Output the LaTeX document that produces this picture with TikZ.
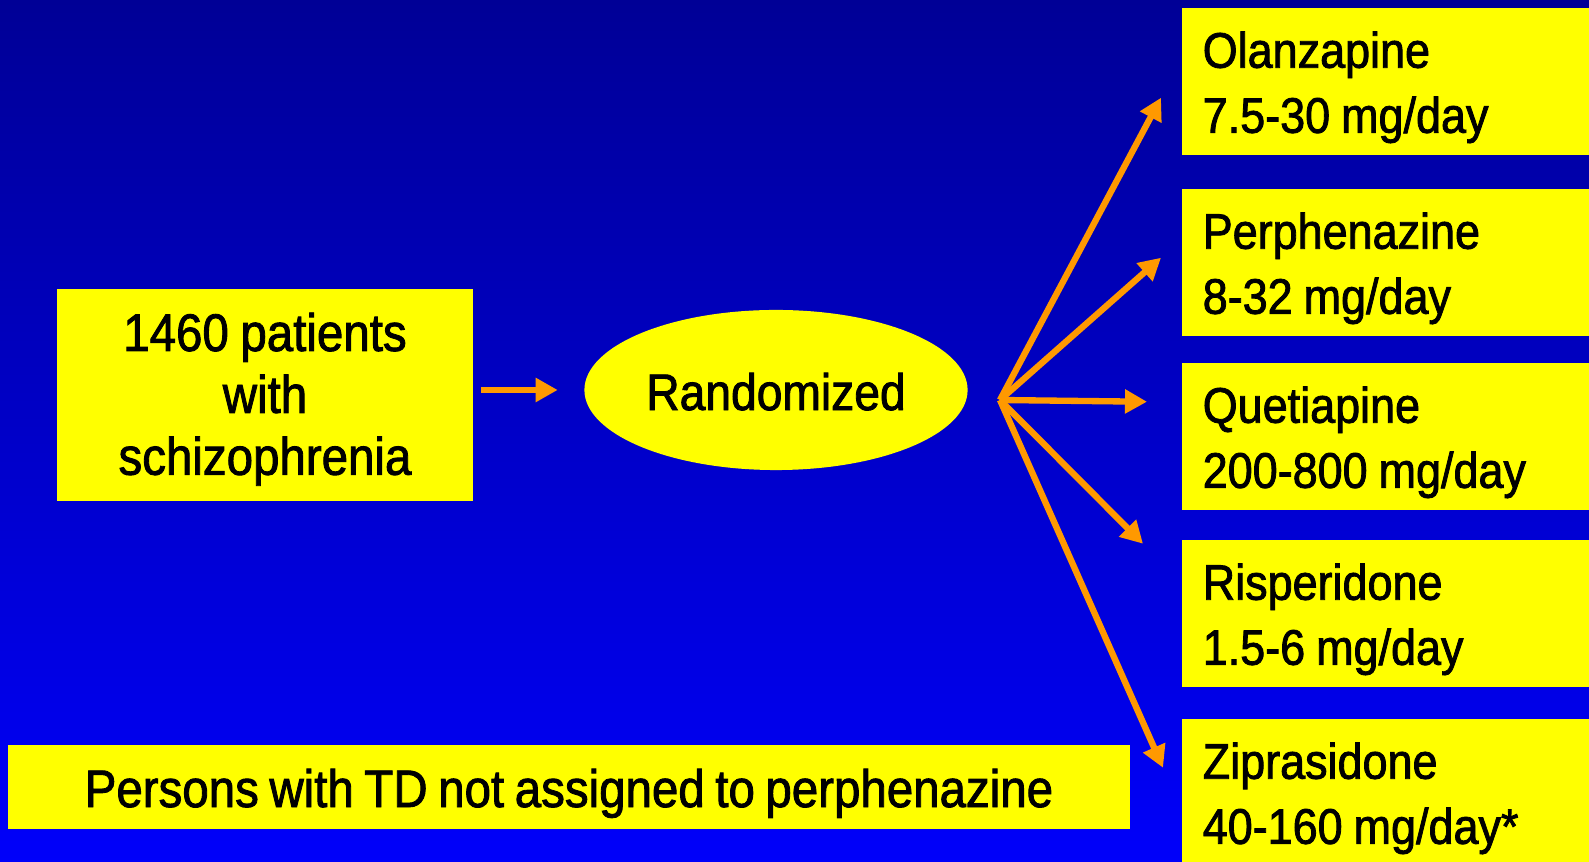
\documentclass[tikz,border=0pt]{standalone}
\usepackage{fontspec}
\setmainfont{Liberation Sans}[FakeStretch=0.9, FakeBold=1.6, WordSpace=0.8]
\usetikzlibrary{arrows.meta,shapes.geometric,calc}
\definecolor{ctyellow}{RGB}{255,255,0}
\definecolor{ctorange}{RGB}{255,153,0}
\definecolor{ctdeep}{RGB}{0,0,150}
\definecolor{ctblue}{RGB}{0,0,250}
\tikzset{
  ctbox/.style={fill=ctyellow, inner sep=0pt, align=center, font=\fontsize{15}{17.6}\selectfont},
  ctdrug/.style={fill=ctyellow, inner sep=0pt, anchor=north west, minimum width=4.08cm, minimum height=1.47cm,
    text width=3.66cm, align=left, text height=0.60cm, text depth=0.87cm,
    font=\fontsize{14.2}{18.5}\selectfont, execute at begin node={\spaceskip=0.22em\relax}},
  ctoval/.style={ellipse, fill=ctyellow, inner sep=0pt, minimum width=3.83cm, minimum height=1.60cm,
    text height=0.40cm, text depth=0cm, font=\fontsize{14.6}{17}\selectfont},
  ctarrow/.style={draw=ctorange, line width=1.8pt, -{Triangle[length=0.22cm,width=0.23cm]}},
}
\begin{document}
\begin{tikzpicture}[x=0.01cm, y=-0.01cm]
\useasboundingbox (0,0) rectangle (1589,862);
\shade[top color=ctdeep, bottom color=ctblue] (0,0) rectangle (1589,862);
% left side
\node[ctbox, execute at begin node={\spaceskip=0.22em\relax}, minimum width=4.16cm, minimum height=2.12cm,
  text width=4.16cm, text height=0.62cm, text depth=1.50cm]
  (patients) at (265,395) {1460 patients\\with\\schizophrenia};
\node[ctoval] (rand) at (776,390) {Randomized};
\node[ctbox, minimum width=11.22cm, minimum height=0.84cm, text height=0.62cm, text depth=0.22cm]
  (td) at (569,787) {Persons with TD not assigned to perphenazine};
% the five arms
\node[ctdrug] (olz) at (1181,7) {Olanzapine\\7.5-30 mg/day};
\node[ctdrug] (per) at (1181,188) {Perphenazine\\8-32 mg/day};
\node[ctdrug] (que) at (1181,362) {Quetiapine\\200-800 mg/day};
\node[ctdrug] (ris) at (1181,539) {Risperidone\\1.5-6 mg/day};
\node[ctdrug] (zip) at (1181,718) {Ziprasidone\\40-160 mg/day*};
% arrows
\coordinate (fan) at (1000,400);
\draw[ctarrow] ($(patients.east |- rand.west)+(7,0)$) -- ($(rand.west)+(-26,0)$);
\draw[ctarrow] (fan) -- ($(olz.west)+(-20,16.5)$);
\draw[ctarrow] (fan) -- ($(per.west)+(-20,-4.5)$);
\draw[ctarrow] (fan) -- ($(que.west)+(-34,-34.5)$);
\draw[ctarrow] (fan) -- ($(ris.west)+(-38,-69.5)$);
\draw[ctarrow] (fan) -- ($(zip.west)+(-18,-24.5)$);
\end{tikzpicture}
\end{document}
